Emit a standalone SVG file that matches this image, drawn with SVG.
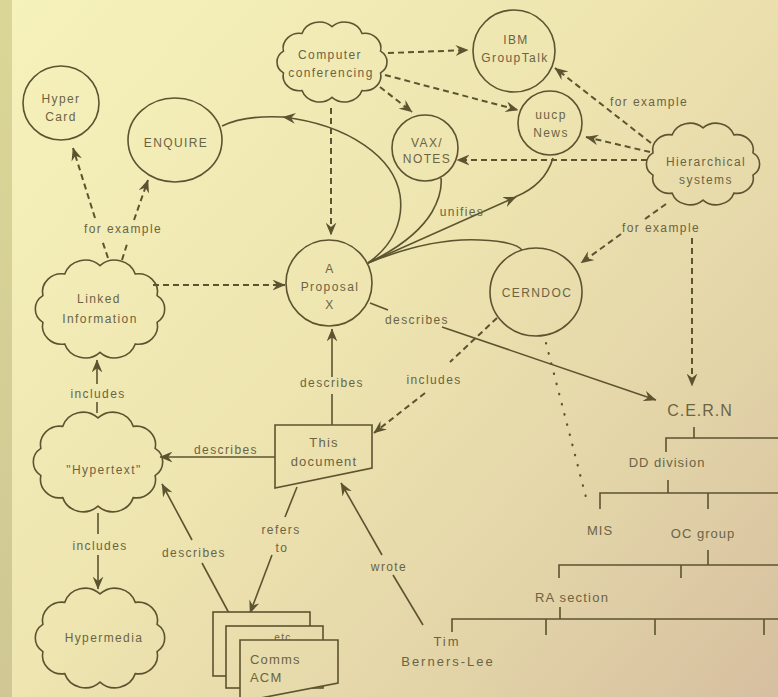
<svg xmlns="http://www.w3.org/2000/svg" width="778" height="697" viewBox="0 0 778 697">
<defs>
<linearGradient id="bg" gradientUnits="userSpaceOnUse" x1="0" y1="0" x2="778" y2="697">
<stop offset="0" stop-color="#f6f2bb"/>
<stop offset="0.45" stop-color="#eee5b0"/>
<stop offset="0.75" stop-color="#e3d4a8"/>
<stop offset="1" stop-color="#d6bf9f"/>
</linearGradient>
<linearGradient id="strip" x1="0" y1="0" x2="0" y2="1">
<stop offset="0" stop-color="#dad796"/>
<stop offset="1" stop-color="#d0c794"/>
</linearGradient>
<marker id="ah" markerUnits="userSpaceOnUse" viewBox="0 0 12 10" refX="11.5" refY="5" markerWidth="13" markerHeight="11" orient="auto">
<path d="M0,0 L12,5 L0,10 L4,5 Z" fill="#5c5330"/>
</marker>
<path id="cloud" d="M0,-38 A18,18 0 0 1 29.4,-30.7 A16,16 0 0 1 47.6,-11.7 A14,14 0 0 1 47.6,11.7 A16,16 0 0 1 29.4,30.7 A18,18 0 0 1 0,38 A18,18 0 0 1 -29.4,30.7 A16,16 0 0 1 -47.6,11.7 A14,14 0 0 1 -47.6,-11.7 A16,16 0 0 1 -29.4,-30.7 A18,18 0 0 1 0,-38 Z" fill="none" stroke="#5c5330" stroke-width="1.6" vector-effect="non-scaling-stroke"/>
</defs>
<style>
.s{fill:none;stroke:#5c5330;stroke-width:1.6}
.d{fill:none;stroke:#5c5330;stroke-width:2;stroke-dasharray:6 4}
.dot{fill:none;stroke:#5c5330;stroke-width:2.2;stroke-dasharray:0.5 10;stroke-linecap:round}
.a{marker-end:url(#ah)}
.o{stroke:#5c5330;stroke-width:1.6;fill:none}
.sh{fill:url(#bg);stroke:#5c5330;stroke-width:1.6}
text{font-family:"Liberation Sans",Arial,sans-serif;font-size:12px;fill:#6b6444;letter-spacing:1.4px;text-anchor:middle}
.b{font-size:13px;letter-spacing:1.2px}
.c{font-size:16px;letter-spacing:1px}
</style>
<rect x="0" y="0" width="778" height="697" fill="url(#bg)"/>
<rect x="0" y="0" width="12" height="697" fill="url(#strip)"/>

<g id="connectors">
<!-- left for example -->
<path class="d" d="M108,258 L102,240"/>
<path class="d a" d="M95,218 L73,148"/>
<path class="d" d="M122,260 L128,241"/>
<path class="d a" d="M134,220 L148,180"/>
<text x="123" y="233">for example</text>
<!-- Linked -> Proposal -->
<path class="d a" d="M153,285 L285,285"/>
<!-- Computer conferencing -->
<path class="d a" d="M331,108 L331,235"/>
<path class="d a" d="M388,53 L468,50"/>
<path class="d a" d="M385,75 L518,110"/>
<path class="d a" d="M380,87 L412,112"/>
<!-- Hierarchical -->
<path class="d a" d="M651,143 L555,68"/>
<text x="649" y="106">for example</text>
<path class="d a" d="M650,152 L586,137"/>
<path class="d a" d="M647,160 L457,160"/>
<path class="d" d="M666,204 L645,219"/>
<path class="d a" d="M621,234 L581,263"/>
<text x="661" y="232">for example</text>
<path class="d a" d="M692,238 L692,386"/>
<!-- unifies curves -->
<path class="s a" d="M368,263 C392,246 404,222 400,195 C394,158 350,125 283,117"/>
<path class="s" d="M283,117 Q245,115 222,126"/>
<path class="s" d="M368,263 C395,250 420,232 432,212 C440,198 442,188 441,178"/>
<path class="s a" d="M368,263 L516,197"/>
<path class="s" d="M515,197 Q545,185 553,158"/>
<path class="s" d="M368,263 C400,250 440,238 480,240 C505,241 518,245 522,250"/>
<text x="462" y="216">unifies</text>
<!-- Proposal -> CERN -->
<path class="s" d="M370,303 L388,310"/>
<path class="s a" d="M442,327 L656,400"/>
<text x="417" y="324">describes</text>
<!-- CERNDOC -> This document -->
<path class="d" d="M497,318 L450,362"/>
<path class="d a" d="M425,393 L374,433"/>
<text x="434" y="384">includes</text>
<!-- CERNDOC dotted to MIS -->
<path class="dot" d="M546,343 L588,505"/>
<!-- This document -> Proposal -->
<path class="s" d="M332,425 L332,394"/>
<path class="s a" d="M332,377 L332,329"/>
<text x="332" y="387">describes</text>
<!-- This document -> Hypertext -->
<path class="s a" d="M275,457 L160,457"/>
<text x="226" y="454">describes</text>
<!-- Hypertext -> Linked -->
<path class="s" d="M97,413 L97,402"/>
<path class="s a" d="M97,384 L97,360"/>
<text x="98" y="398">includes</text>
<!-- Hypertext -> Hypermedia -->
<path class="s" d="M98,513 L98,534"/>
<path class="s a" d="M98,555 L98,589"/>
<text x="100" y="550">includes</text>
<!-- Comms -> Hypertext -->
<path class="s" d="M230,615 L202,563"/>
<path class="s a" d="M192,540 L162,484"/>
<text x="194" y="557">describes</text>
<!-- This document -> Comms -->
<path class="s" d="M297,487 L285,517"/>
<path class="s a" d="M272,555 L250,613"/>
<text x="281" y="534">refers</text>
<text x="282" y="552">to</text>
<!-- Tim -> This document -->
<path class="s" d="M423,625 L393,575"/>
<path class="s a" d="M382,555 L341,483"/>
<text x="389" y="571">wrote</text>
<!-- org chart -->
<path class="o" d="M694,427 V438 M666,452 V438 H778"/>
<path class="o" d="M668,480 V493 M600,509 V493 H778 M708,493 V509"/>
<path class="o" d="M708,550 V565 M559,578 V565 H778 M681,565 V578"/>
<path class="o" d="M560,607 V619 M452,632 V619 H778 M546,619 V635 M655,619 V635 M764,619 V635"/>
</g>

<g id="hypercard">
<ellipse class="o" cx="61" cy="103" rx="38" ry="37"/>
<text x="61" y="103">Hyper</text>
<text x="61" y="121">Card</text>
</g>
<g id="enquire">
<ellipse class="o" cx="175" cy="140" rx="47" ry="42"/>
<text x="176" y="147">ENQUIRE</text>
</g>
<g id="computer-conferencing">
<use href="#cloud" transform="translate(332,62) scale(1.02,0.93)"/>
<text x="330" y="59">Computer</text>
<text x="331" y="77">conferencing</text>
</g>
<g id="ibm-grouptalk">
<circle class="o" cx="514" cy="51" r="41"/>
<text x="516" y="44">IBM</text>
<text x="515" y="62">GroupTalk</text>
</g>
<g id="uucp-news">
<circle class="o" cx="550" cy="123" r="32"/>
<text x="551" y="119">uucp</text>
<text x="551" y="137">News</text>
</g>
<g id="vax-notes">
<circle class="o" cx="425" cy="148" r="33"/>
<text x="427" y="147">VAX/</text>
<text x="427" y="163">NOTES</text>
</g>
<g id="hierarchical-systems">
<use href="#cloud" transform="translate(703,164) scale(1.05,0.95)"/>
<text x="706" y="166">Hierarchical</text>
<text x="706" y="184">systems</text>
</g>
<g id="linked-information">
<use href="#cloud" transform="translate(100,309) scale(1.2,1.14)"/>
<text x="99" y="303">Linked</text>
<text x="100" y="323">Information</text>
</g>
<g id="proposal">
<circle class="o" cx="329" cy="283" r="43"/>
<text x="330" y="273">A</text>
<text x="330" y="291">Proposal</text>
<text x="330" y="309">X</text>
</g>
<g id="cerndoc">
<ellipse class="o" cx="536" cy="292" rx="46" ry="44"/>
<text x="537" y="297">CERNDOC</text>
</g>
<g id="hypertext">
<use href="#cloud" transform="translate(98,462) scale(1.2,1.16)"/>
<text x="104" y="474">"Hypertext"</text>
</g>
<g id="this-document">
<polygon class="o" points="275,425 372,425 372,468 275,488"/>
<text class="b" x="324" y="447">This</text>
<text class="b" x="324" y="466">document</text>
</g>
<g id="hypermedia">
<use href="#cloud" transform="translate(100,638) scale(1.2,1.16)"/>
<text x="104" y="642">Hypermedia</text>
</g>
<g id="comms-acm">
<rect class="sh" x="213" y="612" width="97" height="64"/>
<rect class="sh" x="226" y="626" width="97" height="62"/>
<text x="283" y="641" style="font-size:10px">etc</text>
<polygon class="sh" points="240,640 338,640 338,683 240,702"/>
<text class="b" x="250" y="664" style="text-anchor:start">Comms</text>
<text class="b" x="250" y="682" style="text-anchor:start">ACM</text>
</g>
<g id="tim-berners-lee">
<text class="b" x="447" y="646" style="letter-spacing:2px">Tim</text>
<text class="b" x="448" y="666" style="letter-spacing:2px">Berners-Lee</text>
</g>
<g id="cern">
<text class="c" x="700" y="416">C.E.R.N</text>
</g>
<g id="dd-division">
<text class="b" x="667" y="467" style="letter-spacing:1px">DD division</text>
</g>
<g id="mis">
<text class="b" x="600" y="535" style="letter-spacing:1px">MIS</text>
</g>
<g id="oc-group">
<text class="b" x="703" y="538" style="letter-spacing:1px">OC group</text>
</g>
<g id="ra-section">
<text class="b" x="572" y="602" style="letter-spacing:1.2px">RA section</text>
</g>
</svg>
